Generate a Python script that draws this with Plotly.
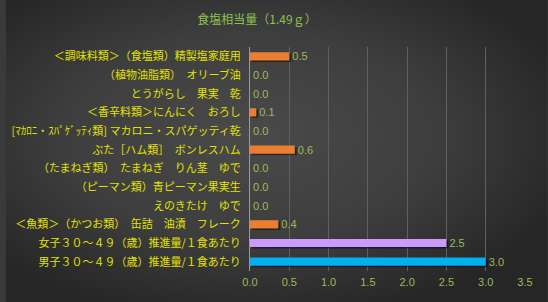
import base64
import plotly.graph_objects as go

categories = [
    "＜調味料類＞（食塩類）精製塩家庭用",
    "（植物油脂類）　オリーブ油",
    "とうがらし　果実　乾",
    "＜香辛料類＞にんにく　おろし",
    "[ﾏｶﾛﾆ・ｽﾊﾟｹﾞｯﾃｨ類] マカロニ・スパゲッティ乾",
    "ぶた［ハム類］　ボンレスハム",
    "（たまねぎ類）　たまねぎ　りん茎　ゆで",
    "（ピーマン類）青ピーマン果実生",
    "えのきたけ　ゆで",
    "＜魚類＞（かつお類）　缶詰　油漬　フレーク",
    "女子３０～４９（歳）推進量/１食あたり",
    "男子３０～４９（歳）推進量/１食あたり",
]
values = [0.5, 0.0, 0.0, 0.08, 0.0, 0.57, 0.0, 0.0, 0.0, 0.36, 2.5, 3.0]
colors = ["#ED7D31"] * 10 + ["#CC99FF", "#00B0F0"]
title_text = "食塩相当量（1.49ｇ）"
x_ticks = [0.0, 0.5, 1.0, 1.5, 2.0, 2.5, 3.0, 3.5]

W, H = 548, 302
L, R, T, B = 247, 23, 47, 31
pw, ph = W - L - R, H - T - B
BW = 0.44

svg = f'''<svg xmlns="http://www.w3.org/2000/svg" width="{W}" height="{H}" viewBox="0 0 {W} {H}" preserveAspectRatio="none">
<defs><radialGradient id="g" cx="0.45" cy="0.45" r="0.62" gradientUnits="objectBoundingBox">
<stop offset="0" stop-color="#4a4a4a"/><stop offset="0.55" stop-color="#3e3e3e"/><stop offset="1" stop-color="#262626"/>
</radialGradient></defs><rect width="{W}" height="{H}" fill="url(#g)"/></svg>'''
src = "data:image/svg+xml;base64," + base64.b64encode(svg.encode()).decode()

fig = go.Figure()
# drop shadow
fig.add_trace(go.Bar(
    y=categories, x=values, orientation="h",
    width=BW, offset=-BW / 2 + 0.08, base=0.025,
    marker=dict(color="rgba(0,0,0,0.45)", line=dict(width=0)),
    hoverinfo="skip",
))
fig.add_trace(go.Bar(
    y=categories, x=values, orientation="h",
    width=BW, offset=-BW / 2,
    marker=dict(color=colors, line=dict(width=0)),
    text=[f"{v:.1f}" for v in values], textposition="outside",
    constraintext="none",
    textfont=dict(family="Liberation Sans, Arial", size=11, color="#9BBB59"),
    cliponaxis=False,
))

fig.update_layout(
    width=W, height=H,
    margin=dict(l=L, r=R, t=T, b=B),
    paper_bgcolor="#3a3a3a", plot_bgcolor="rgba(0,0,0,0)",
    barmode="overlay",
    showlegend=False,
    title=dict(text=title_text, x=257 / W, xref="container", xanchor="center",
               y=1 - 20 / H, yanchor="middle",
               font=dict(family="Noto Sans CJK JP", size=12, color="#8DC04F")),
    images=[dict(source=src, xref="paper", yref="paper",
                 x=-L / pw, y=1 + T / ph, sizex=W / pw, sizey=H / ph,
                 xanchor="left", yanchor="top", sizing="stretch", layer="below")],
    xaxis=dict(range=[0, 3.5], tickvals=x_ticks, ticktext=[f"{t:.1f}" for t in x_ticks],
               showgrid=True, gridcolor="#606060", gridwidth=1, zeroline=False,
               showline=False, ticks="", ticklabelstandoff=3,
               tickfont=dict(family="Liberation Sans, Arial", size=11, color="#9BBB59")),
    yaxis=dict(autorange="reversed", showgrid=False, zeroline=False,
               showline=True, linecolor="#9a9a9a", linewidth=1, ticks="",
               ticklabelstandoff=6,
               tickfont=dict(family="Noto Sans CJK JP", size=11, color="#E2E200")),
    font=dict(family="Noto Sans CJK JP"),
)

fig.write_html("out.html")
